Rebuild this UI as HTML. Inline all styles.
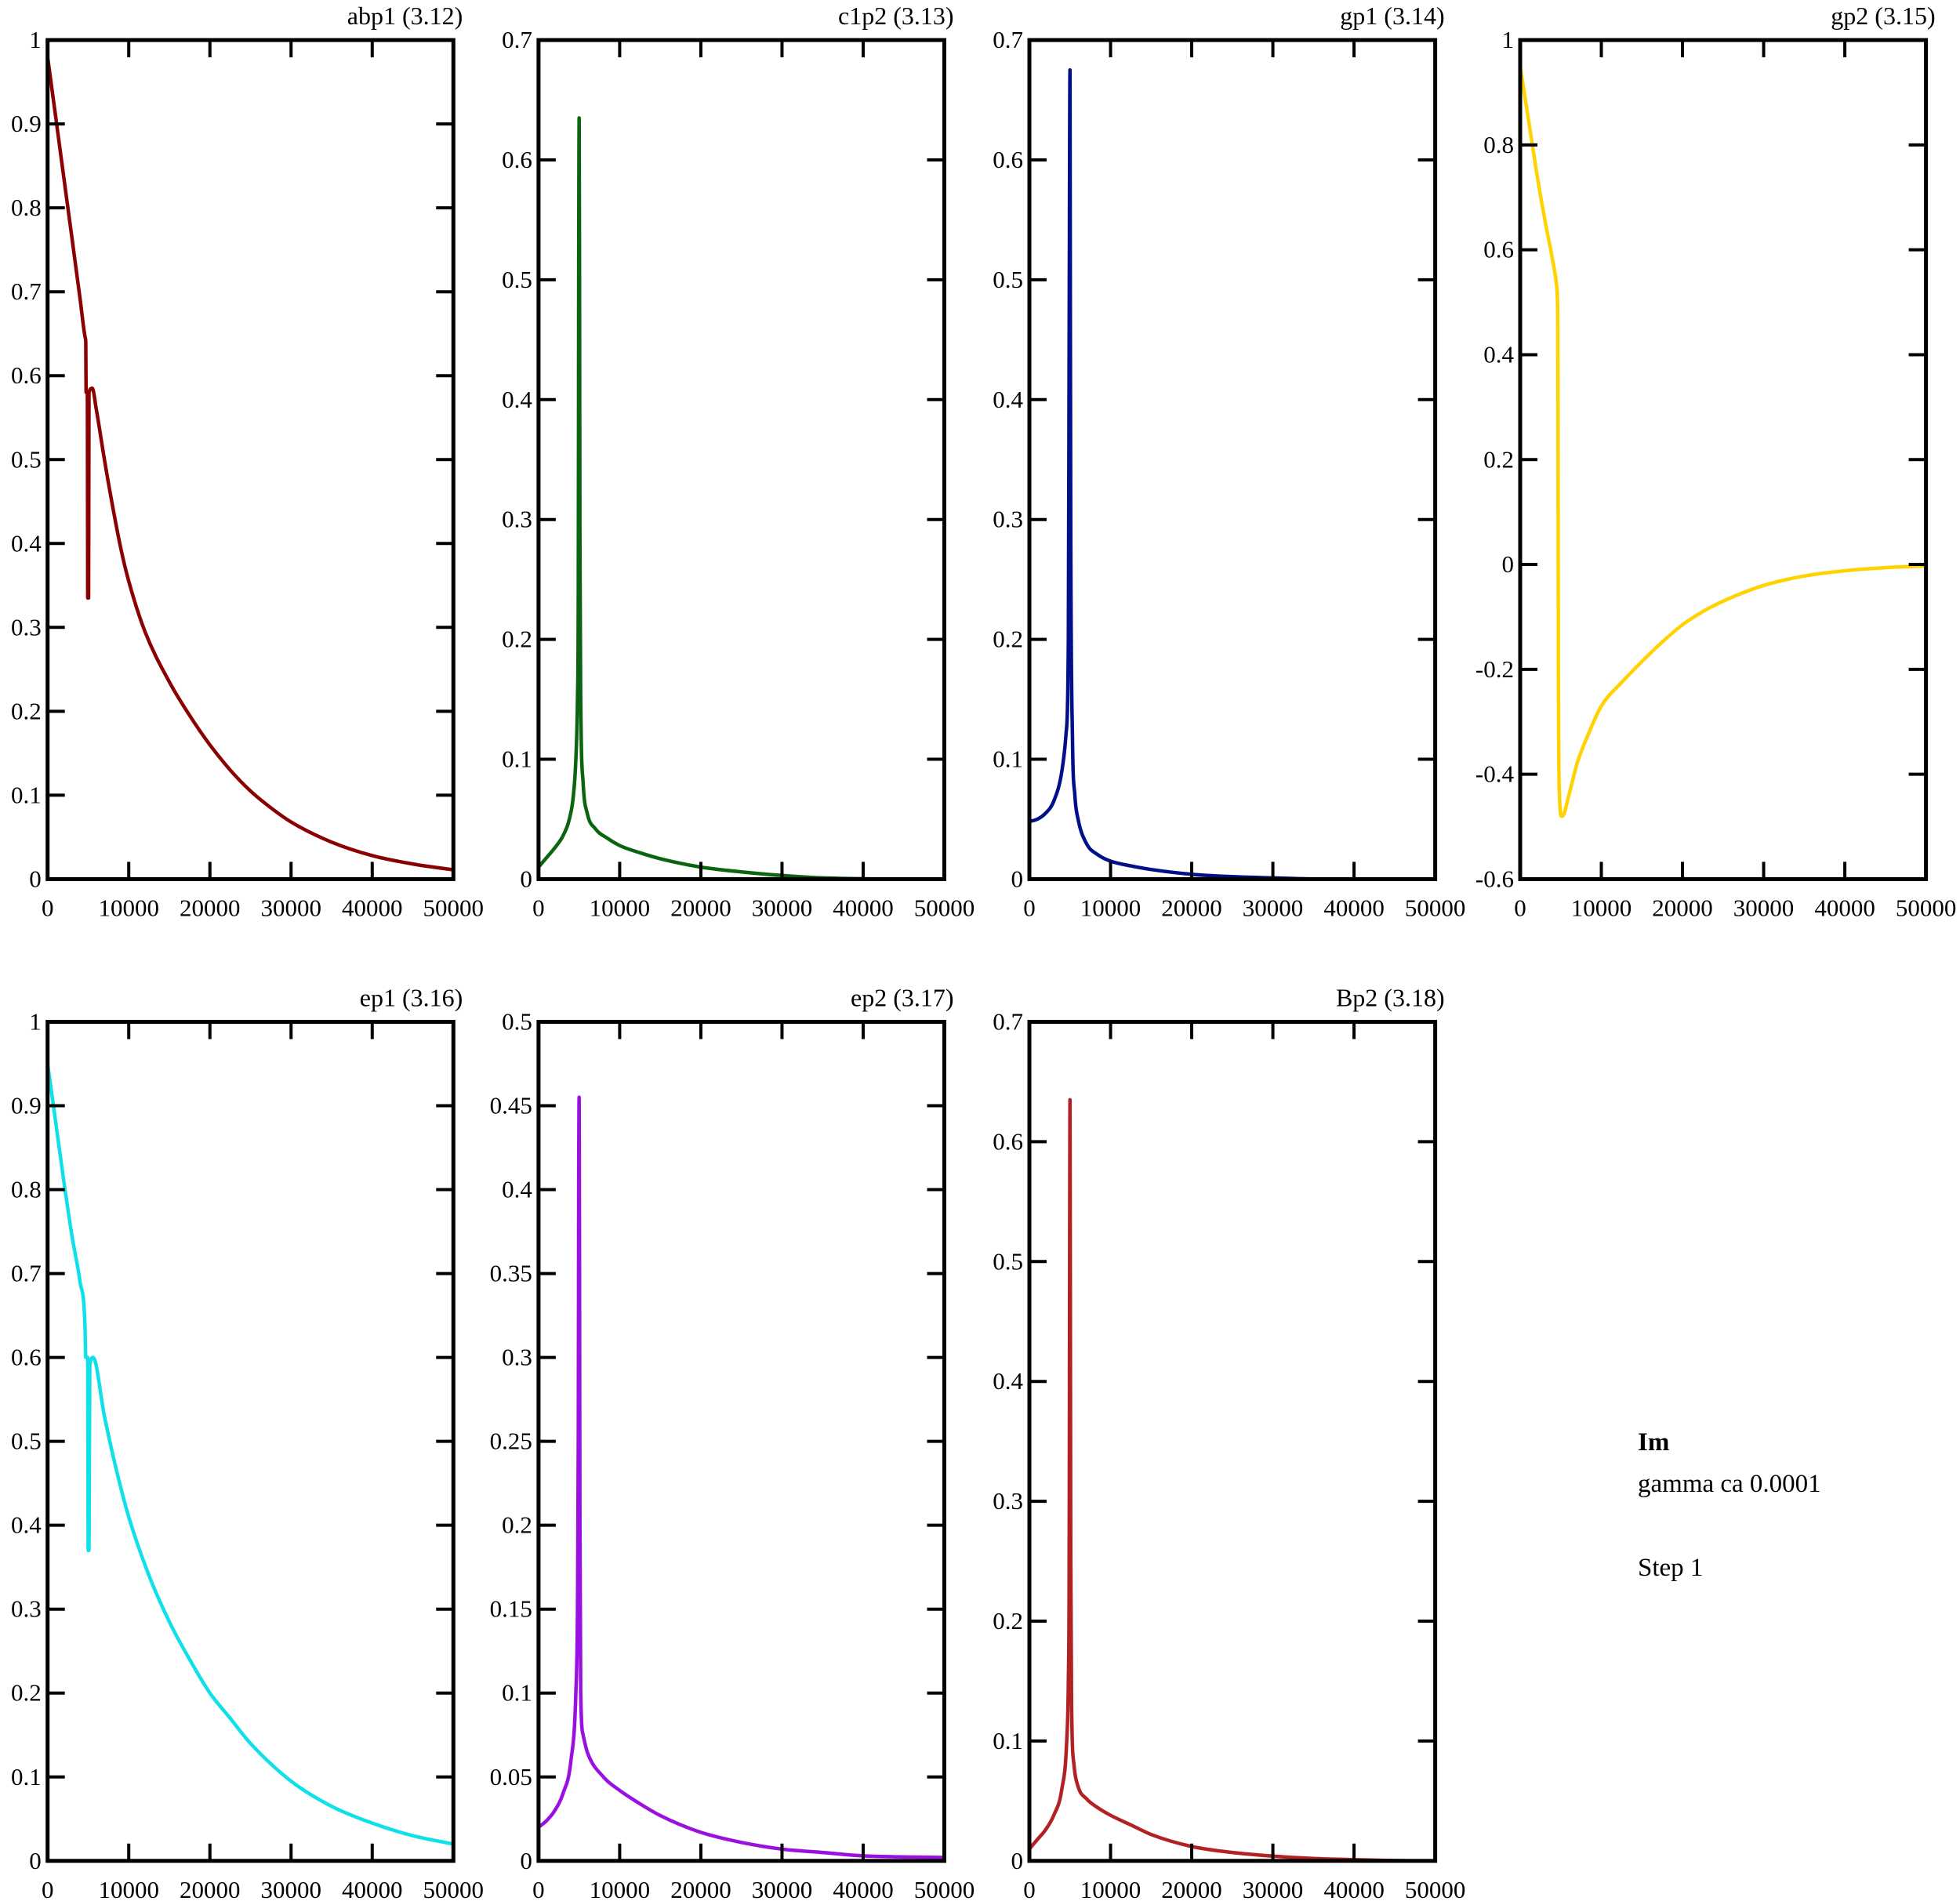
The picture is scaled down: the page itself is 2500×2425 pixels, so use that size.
<!DOCTYPE html>
<html><head><meta charset="utf-8"><style>
html,body{margin:0;padding:0;background:#fff;}
svg{display:block;font-family:"Liberation Serif",serif;}
</style></head><body>
<svg id="chart" width="2500" height="2425" viewBox="0 0 2500 2425">
<g id="panels"></g>
<text x="2089" y="1850" font-size="33" font-weight="bold">Im</text>
<text x="2089" y="1903" font-size="33">gamma ca 0.0001</text>
<text x="2089" y="2010" font-size="33">Step 1</text>
</svg>
<script>
const xTicks=[0,10000,20000,30000,40000,50000];
const abp1X=[0,1000,2000,3000,4000,4650,4700,4750,4900,4950,5050,5100,5500,6000,7000,8000,9000,10000,12000,15000,17500,20000,22500,25000,27500,30000,35000,40000,45000,50000];
const abp1Y=[0.98,0.908,0.836,0.764,0.692,0.645,0.64,0.58,0.58,0.335,0.335,0.58,0.585,0.56,0.50,0.445,0.395,0.355,0.295,0.235,0.195,0.16,0.13,0.105,0.085,0.068,0.044,0.028,0.018,0.011];
const c1p2X=[0,1000,2000,3000,3800,4300,4600,4800,4900,4950,5000,5050,5100,5200,5500,6000,7000,8500,10000,12500,15000,20000,25000,30000,35000,42000];
const c1p2Y=[0.01,0.018,0.026,0.036,0.05,0.07,0.10,0.15,0.24,0.50,0.635,0.50,0.28,0.15,0.08,0.055,0.042,0.034,0.028,0.022,0.017,0.01,0.006,0.003,0.001,0.0];
const gp1X=[0,1000,2000,3000,4000,4500,4800,4900,5000,5050,5100,5300,5600,6000,7000,8500,10000,12500,15000,20000,25000,30000,35000];
const gp1Y=[0.048,0.05,0.055,0.065,0.09,0.12,0.2,0.45,0.675,0.45,0.28,0.12,0.07,0.05,0.03,0.02,0.015,0.011,0.008,0.004,0.002,0.001,0.0];
const gp2X=[0,1000,2000,3000,4000,4500,4600,4650,4700,4750,4800,5100,5200,6000,7000,8500,10000,12500,15000,17500,20000,22500,25000,30000,35000,40000,45000,50000];
const gp2Y=[0.95,0.85,0.75,0.66,0.58,0.53,0.5,0.4,-0.2,-0.35,-0.42,-0.48,-0.48,-0.44,-0.38,-0.32,-0.27,-0.225,-0.185,-0.148,-0.115,-0.09,-0.07,-0.04,-0.022,-0.012,-0.006,-0.003];
const ep1X=[0,1000,2000,3000,4000,4600,4700,4950,5000,5100,5200,5600,7000,8500,10000,12500,15000,17500,20000,22500,25000,30000,35000,40000,45000,50000];
const ep1Y=[0.95,0.88,0.81,0.745,0.69,0.64,0.60,0.60,0.37,0.37,0.59,0.60,0.53,0.465,0.41,0.34,0.285,0.24,0.2,0.17,0.14,0.095,0.065,0.045,0.03,0.02];
const ep2X=[0,1000,2000,3000,4000,4600,4800,4900,4950,5000,5050,5100,5200,5500,6000,8000,10000,12500,15000,20000,25000,30000,35000,40000,50000];
const ep2Y=[0.02,0.024,0.03,0.04,0.06,0.10,0.15,0.25,0.40,0.455,0.35,0.20,0.10,0.075,0.065,0.05,0.042,0.034,0.027,0.017,0.011,0.007,0.005,0.003,0.002];
const bp2X=[0,1000,2000,3000,4000,4600,4800,4900,4950,5000,5050,5100,5200,5500,6000,7000,8500,10000,12500,15000,20000,25000,30000,35000,40000,47000];
const bp2Y=[0.01,0.018,0.026,0.038,0.06,0.10,0.15,0.24,0.45,0.635,0.45,0.25,0.13,0.08,0.062,0.052,0.044,0.038,0.03,0.022,0.012,0.007,0.004,0.002,0.001,0.0];
const y1Ticks=[0,0.1,0.2,0.3,0.4,0.5,0.6,0.7,0.8,0.9,1];
const y07Ticks=[0,0.1,0.2,0.3,0.4,0.5,0.6,0.7];
const y4Ticks=[-0.6,-0.4,-0.2,0,0.2,0.4,0.6,0.8,1];
const y05Ticks=[0,0.05,0.1,0.15,0.2,0.25,0.3,0.35,0.4,0.45,0.5];

const NS='http://www.w3.org/2000/svg';
const PW=517.6, PH=1070.3;
const colL=[60.7,686.9,1313,1939], rowT=[51.1,1303.5];
const panels=[
 {name:'abp1',title:'abp1 (3.12)',c:0,r:0,x:abp1X,y:abp1Y,ticks:y1Ticks,color:'#8b0000'},
 {name:'c1p2',title:'c1p2 (3.13)',c:1,r:0,x:c1p2X,y:c1p2Y,ticks:y07Ticks,color:'#0a6410'},
 {name:'gp1',title:'gp1 (3.14)',c:2,r:0,x:gp1X,y:gp1Y,ticks:y07Ticks,color:'#00108b'},
 {name:'gp2',title:'gp2 (3.15)',c:3,r:0,x:gp2X,y:gp2Y,ticks:y4Ticks,color:'#ffd200'},
 {name:'ep1',title:'ep1 (3.16)',c:0,r:1,x:ep1X,y:ep1Y,ticks:y1Ticks,color:'#10e0ea'},
 {name:'ep2',title:'ep2 (3.17)',c:1,r:1,x:ep2X,y:ep2Y,ticks:y05Ticks,color:'#9a10e0'},
 {name:'bp2',title:'Bp2 (3.18)',c:2,r:1,x:bp2X,y:bp2Y,ticks:y07Ticks,color:'#b22222'}
];
function mk(tag,attrs,parent){const e=document.createElementNS(NS,tag);for(const k in attrs)e.setAttribute(k,attrs[k]);parent.appendChild(e);return e;}
function fmt(v){return String(Math.round(v*1000)/1000);}
function monoPath(P){
 const n=P.length;if(n<2)return '';
 const d=[],m=new Array(n);
 for(let i=0;i<n-1;i++){const dx=P[i+1][0]-P[i][0];d.push(dx===0?0:(P[i+1][1]-P[i][1])/dx);}
 m[0]=d[0];m[n-1]=d[n-2];
 for(let i=1;i<n-1;i++){m[i]=(d[i-1]*d[i]<=0)?0:(d[i-1]+d[i])/2;}
 for(let i=0;i<n-1;i++){if(d[i]===0){m[i]=0;m[i+1]=0;continue;}
  const a=m[i]/d[i],b=m[i+1]/d[i],s=a*a+b*b;if(s>9){const t=3/Math.sqrt(s);m[i]=t*a*d[i];m[i+1]=t*b*d[i];}}
 let s='M'+P[0][0].toFixed(1)+' '+P[0][1].toFixed(1);
 for(let i=0;i<n-1;i++){const h=(P[i+1][0]-P[i][0])/3;
  s+='C'+(P[i][0]+h).toFixed(1)+' '+(P[i][1]+m[i]*h).toFixed(1)+' '+(P[i+1][0]-h).toFixed(1)+' '+(P[i+1][1]-m[i+1]*h).toFixed(1)+' '+P[i+1][0].toFixed(1)+' '+P[i+1][1].toFixed(1);}
 return s;
}
const root=document.getElementById('panels');
panels.forEach(p=>{
 const L=colL[p.c],T=rowT[p.r],R=L+PW,B=T+PH;
 const ymin=p.ticks[0],ymax=p.ticks[p.ticks.length-1];
 const sx=v=>L+(v-0)/(50000)*PW;
 const sy=v=>B-(v-ymin)/(ymax-ymin)*PH;
 const g=mk('g',{},root);
 
 
 const pts=p.x.map((xv,i)=>[sx(xv),sy(p.y[i])]);
 const line=mk('path',{d:monoPath(pts),fill:'none',stroke:p.color,'stroke-width':4.5,'stroke-linejoin':'round'},g);
 
 
 const fr=mk('rect',{x:L,y:T,width:PW,height:PH,fill:'none',stroke:'#000','stroke-width':5},g);
 
 
 xTicks.forEach(t=>{
  const X=sx(t);
  const tk=mk('path',{d:`M${X} ${B}V${B-22}M${X} ${T}V${T+22}`,stroke:'#000','stroke-width':4},g);
  
  
  const tx=mk('text',{x:X,y:B+47,'font-size':31,'text-anchor':'middle'},g);
  tx.textContent=String(t);
  
  
 });
 p.ticks.forEach(t=>{
  const Y=sy(t);
  const tk=mk('path',{d:`M${L} ${Y}H${L+22}M${R} ${Y}H${R-22}`,stroke:'#000','stroke-width':4},g);
  
  
  const tx=mk('text',{x:L-8,y:Y+10,'font-size':31,'text-anchor':'end'},g);
  tx.textContent=fmt(t);
  
  
 });
 const ti=mk('text',{x:R+12,y:T-20,'font-size':32,'text-anchor':'end'},g);
 ti.textContent=p.title;
 
 
});
</script>
</body></html>
